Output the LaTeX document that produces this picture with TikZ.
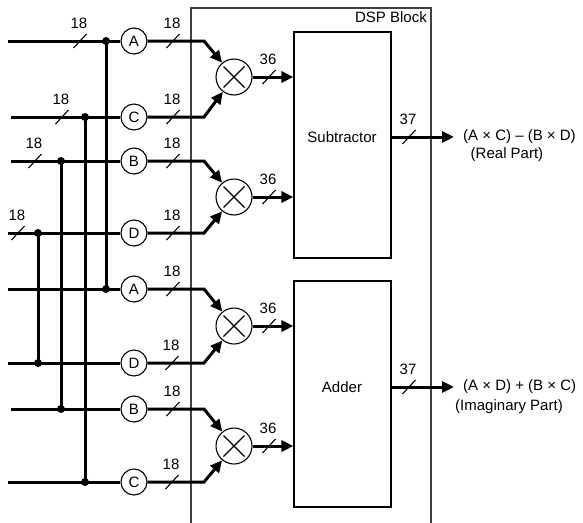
\documentclass[tikz,border=0pt]{standalone}
\usepackage{fontspec}
\setmainfont{Liberation Sans}
\usetikzlibrary{arrows.meta,calc}
\begin{document}
\begin{tikzpicture}[x=1pt,y=-1pt,
  bus/.style={line width=3pt},
  busarrow/.style={line width=3pt,-{Triangle[length=12pt,width=11pt]}},
  lbl/.style={circle,draw,line width=1.1pt,minimum size=26pt,inner sep=0pt,font=\fontsize{15}{17}\selectfont},
  mult/.style={circle,draw,line width=1.1pt,minimum size=36pt,inner sep=0pt},
  dot/.style={circle,fill,minimum size=8pt,inner sep=0pt},
  blk/.style={draw,line width=1.1pt,inner sep=0pt},
  txt/.style={font=\fontsize{15}{17}\selectfont,inner sep=0pt},
  sl/.style={line width=1.1pt}]
\useasboundingbox (0,0) rectangle (583,522);
\newcommand{\busw}[4]{\draw[sl] (#1-6.5,#2+7) -- (#1+6.5,#2-7);
  \node[txt] (#4) at (#1-1,#2-18) {#3};}
% DSP block
\draw[line width=1.3pt,black!75] (191,530) -- (191,8) -- (431,8) -- (431,530);
\node[txt,anchor=north east] (dsp) at (427,11) {DSP Block};
% boxes
\node[blk,minimum width=97pt,minimum height=226pt] (sub) at (342.5,145) {};
\node[txt] (subt) at (342,137) {Subtractor};
\node[blk,minimum width=97pt,minimum height=226pt] (add) at (342.5,394) {};
\node[txt] (addt) at (342,387) {Adder};
% label circles
\node[lbl] (lA1) at (134,41) {A};
\node[lbl] (lC1) at (134,117) {C};
\node[lbl] (lB1) at (134,161) {B};
\node[lbl] (lD1) at (134,233) {D};
\node[lbl] (lA2) at (134,289) {A};
\node[lbl] (lD2) at (134,363) {D};
\node[lbl] (lB2) at (134,409) {B};
\node[lbl] (lC2) at (134,482) {C};
% inputs
\coordinate (iA1) at (8,41);
\coordinate (iC1) at (11,117);
\coordinate (iB1) at (11,161);
\coordinate (iD1) at (8,233);
\coordinate (iA2) at (8,289);
\coordinate (iD2) at (8,363);
\coordinate (iB2) at (11,409);
\coordinate (iC2) at (8,482);
\foreach \r in {A1,C1,B1,D1,A2,D2,B2,C2}{\draw[bus] (i\r) -- (l\r);}
% bus dots
\node[dot] (dA1) at (106,41) {};
\node[dot] (dA2) at (106,289) {};
\node[dot] (dC1) at (85,117) {};
\node[dot] (dC2) at (85,482) {};
\node[dot] (dB1) at (61,161) {};
\node[dot] (dB2) at (61,409) {};
\node[dot] (dD1) at (38,233) {};
\node[dot] (dD2) at (38,363) {};
\draw[bus] (dA1.center) -- (dA2.center);
\draw[bus] (dC1.center) -- (dC2.center);
\draw[bus] (dB1.center) -- (dB2.center);
\draw[bus] (dD1.center) -- (dD2.center);
% multipliers
\foreach \n/\y in {1/77,2/197,3/326,4/446}{
  \node[mult] (m\n) at (234,\y) {};
  \draw[line width=1.1pt] (234-10.5,\y-10.5) -- (234+10.5,\y+10.5) (234-10.5,\y+10.5) -- (234+10.5,\y-10.5);
}
% bends
\foreach \r/\m in {A1/1,C1/1,B1/2,D1/2,A2/3,D2/3,B2/4,C2/4}{
  \coordinate (b\r) at (204,0 |- l\r);
  \draw[busarrow] (l\r) -- (b\r) -- (m\m);
}
% multiplier outputs
\foreach \n in {1,2}{\draw[busarrow] (m\n) -- (m\n -| sub.west);}
\foreach \n in {3,4}{\draw[busarrow] (m\n) -- (m\n -| add.west);}
% width slashes, left
\busw{80}{41}{18}{wa}
\busw{62}{117}{18}{wb}
\busw{35}{161}{18}{wc}
\busw{18}{233}{18}{wd}
% width slashes, right
\busw{173}{41}{18}{r1}
\busw{173}{117}{18}{r2}
\busw{173}{161}{18}{r3}
\busw{173}{233}{18}{r4}
\busw{173}{289}{18}{r5}
\busw{172}{363}{18}{r6}
\busw{173}{409}{18}{r7}
\busw{172}{482}{18}{r8}
\foreach \n/\y in {1/77,2/197,3/326,4/446}{\busw{269}{\y}{36}{s\n}}
% outputs
\coordinate (oe1) at (454,137);
\coordinate (oe2) at (454,387);
\draw[busarrow] (sub.east |- subt) -- (oe1);
\draw[busarrow] (add.east |- addt) -- (oe2);
\busw{409}{137}{37}{t1}
\busw{409}{387}{37}{t2}
\node[txt,anchor=west] (o1) at (463,137) {(A × C) – (B × D)};
\node[txt] (o1b) at (507,155) {(Real Part)};
\node[txt,anchor=west] (o2) at (463,387) {(A × D) + (B × C)};
\node[txt] (o2b) at (509,407) {(Imaginary Part)};
\end{tikzpicture}
\end{document}
